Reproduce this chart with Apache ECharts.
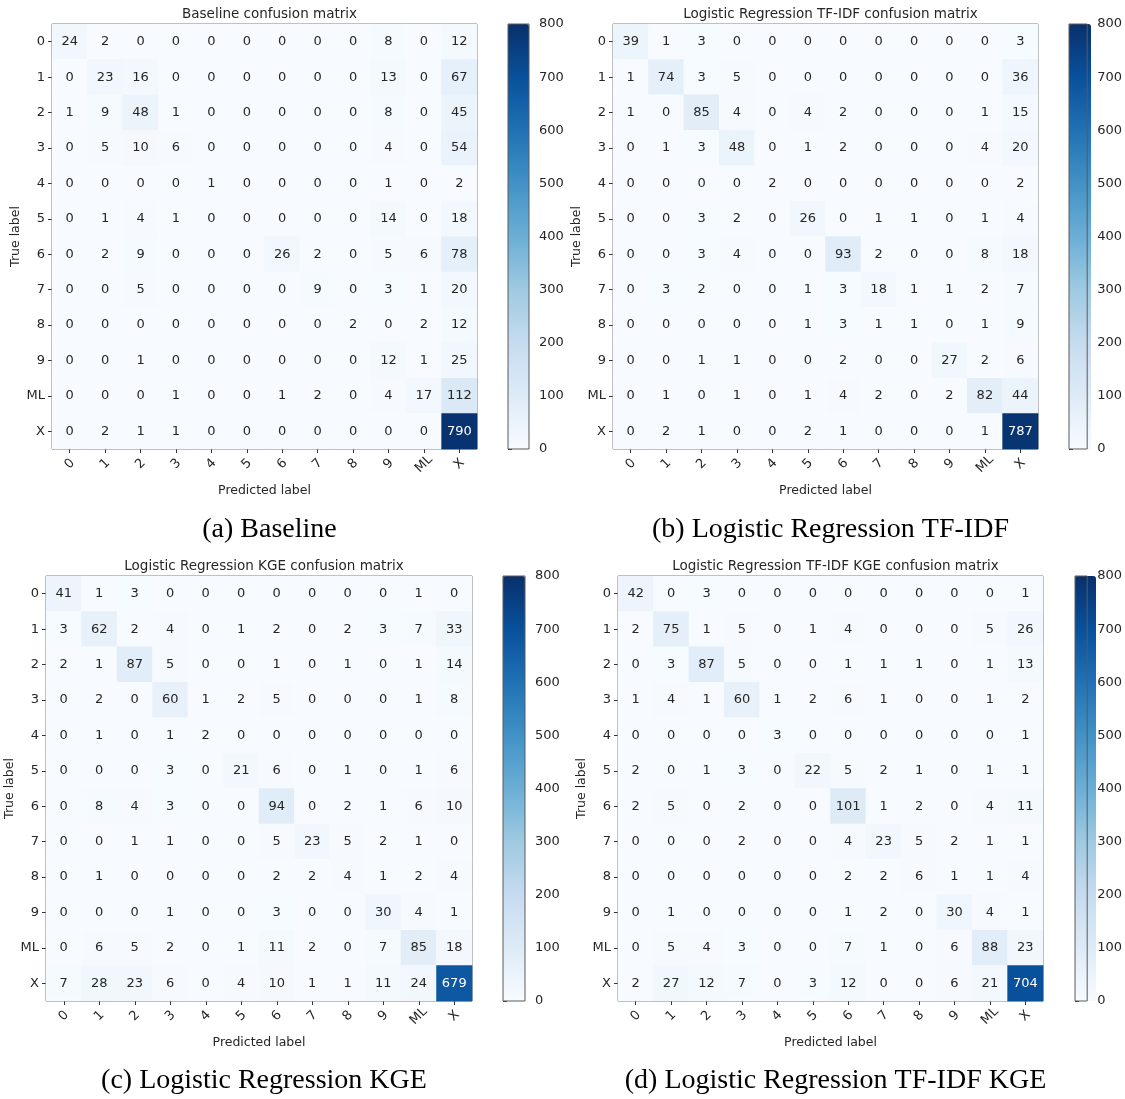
<!DOCTYPE html>
<html>
<head>
<meta charset="utf-8">
<script src="https://cdn.jsdelivr.net/npm/echarts@6/dist/echarts.min.js"></script>
<style>
  html, body { margin: 0; padding: 0; background: #fff; }
  #chart { width: 1125px; height: 1099px; }
</style>
</head>
<body>
<div id="chart"></div>
<script>
// ---------------- DATA ----------------
const classLabels = ['0', '1', '2', '3', '4', '5', '6', '7', '8', '9', 'ML', 'X'];

const chartTitles = [
  'Baseline confusion matrix',
  'Logistic Regression TF-IDF confusion matrix',
  'Logistic Regression KGE confusion matrix',
  'Logistic Regression TF-IDF KGE confusion matrix'
];

const captions = [
  '(a) Baseline',
  '(b) Logistic Regression TF-IDF',
  '(c) Logistic Regression KGE',
  '(d) Logistic Regression TF-IDF KGE'
];

const baselineMatrix = [
  [24, 2, 0, 0, 0, 0, 0, 0, 0, 8, 0, 12],
  [0, 23, 16, 0, 0, 0, 0, 0, 0, 13, 0, 67],
  [1, 9, 48, 1, 0, 0, 0, 0, 0, 8, 0, 45],
  [0, 5, 10, 6, 0, 0, 0, 0, 0, 4, 0, 54],
  [0, 0, 0, 0, 1, 0, 0, 0, 0, 1, 0, 2],
  [0, 1, 4, 1, 0, 0, 0, 0, 0, 14, 0, 18],
  [0, 2, 9, 0, 0, 0, 26, 2, 0, 5, 6, 78],
  [0, 0, 5, 0, 0, 0, 0, 9, 0, 3, 1, 20],
  [0, 0, 0, 0, 0, 0, 0, 0, 2, 0, 2, 12],
  [0, 0, 1, 0, 0, 0, 0, 0, 0, 12, 1, 25],
  [0, 0, 0, 1, 0, 0, 1, 2, 0, 4, 17, 112],
  [0, 2, 1, 1, 0, 0, 0, 0, 0, 0, 0, 790]
];

const tfidfMatrix = [
  [39, 1, 3, 0, 0, 0, 0, 0, 0, 0, 0, 3],
  [1, 74, 3, 5, 0, 0, 0, 0, 0, 0, 0, 36],
  [1, 0, 85, 4, 0, 4, 2, 0, 0, 0, 1, 15],
  [0, 1, 3, 48, 0, 1, 2, 0, 0, 0, 4, 20],
  [0, 0, 0, 0, 2, 0, 0, 0, 0, 0, 0, 2],
  [0, 0, 3, 2, 0, 26, 0, 1, 1, 0, 1, 4],
  [0, 0, 3, 4, 0, 0, 93, 2, 0, 0, 8, 18],
  [0, 3, 2, 0, 0, 1, 3, 18, 1, 1, 2, 7],
  [0, 0, 0, 0, 0, 1, 3, 1, 1, 0, 1, 9],
  [0, 0, 1, 1, 0, 0, 2, 0, 0, 27, 2, 6],
  [0, 1, 0, 1, 0, 1, 4, 2, 0, 2, 82, 44],
  [0, 2, 1, 0, 0, 2, 1, 0, 0, 0, 1, 787]
];

const kgeMatrix = [
  [41, 1, 3, 0, 0, 0, 0, 0, 0, 0, 1, 0],
  [3, 62, 2, 4, 0, 1, 2, 0, 2, 3, 7, 33],
  [2, 1, 87, 5, 0, 0, 1, 0, 1, 0, 1, 14],
  [0, 2, 0, 60, 1, 2, 5, 0, 0, 0, 1, 8],
  [0, 1, 0, 1, 2, 0, 0, 0, 0, 0, 0, 0],
  [0, 0, 0, 3, 0, 21, 6, 0, 1, 0, 1, 6],
  [0, 8, 4, 3, 0, 0, 94, 0, 2, 1, 6, 10],
  [0, 0, 1, 1, 0, 0, 5, 23, 5, 2, 1, 0],
  [0, 1, 0, 0, 0, 0, 2, 2, 4, 1, 2, 4],
  [0, 0, 0, 1, 0, 0, 3, 0, 0, 30, 4, 1],
  [0, 6, 5, 2, 0, 1, 11, 2, 0, 7, 85, 18],
  [7, 28, 23, 6, 0, 4, 10, 1, 1, 11, 24, 679]
];

const tfidfKgeMatrix = [
  [42, 0, 3, 0, 0, 0, 0, 0, 0, 0, 0, 1],
  [2, 75, 1, 5, 0, 1, 4, 0, 0, 0, 5, 26],
  [0, 3, 87, 5, 0, 0, 1, 1, 1, 0, 1, 13],
  [1, 4, 1, 60, 1, 2, 6, 1, 0, 0, 1, 2],
  [0, 0, 0, 0, 3, 0, 0, 0, 0, 0, 0, 1],
  [2, 0, 1, 3, 0, 22, 5, 2, 1, 0, 1, 1],
  [2, 5, 0, 2, 0, 0, 101, 1, 2, 0, 4, 11],
  [0, 0, 0, 2, 0, 0, 4, 23, 5, 2, 1, 1],
  [0, 0, 0, 0, 0, 0, 2, 2, 6, 1, 1, 4],
  [0, 1, 0, 0, 0, 0, 1, 2, 0, 30, 4, 1],
  [0, 5, 4, 3, 0, 0, 7, 1, 0, 6, 88, 23],
  [2, 27, 12, 7, 0, 3, 12, 0, 0, 6, 21, 704]
];

const matrices = [baselineMatrix, tfidfMatrix, kgeMatrix, tfidfKgeMatrix];

const colorbarMin = 0;
const colorbarMax = 800;
const colorbarStep = 100;

// matplotlib "Blues" colormap stops
const bluesColors = ['#f7fbff', '#deebf7', '#c6dbef', '#9ecae1', '#6baed6', '#4292c6', '#2171b5', '#08519c', '#08306b'];

// ---------------- LAYOUT ----------------
const heatGrids = [
  { left: 52, top: 24, width: 425, height: 425 },
  { left: 613, top: 24, width: 425, height: 425 },
  { left: 46, top: 576, width: 426, height: 425 },
  { left: 618, top: 576, width: 425, height: 425 }
];
const barGrids = [
  { left: 508, top: 24, width: 21, height: 425 },
  { left: 1069, top: 24, width: 22, height: 425 },
  { left: 503, top: 576, width: 22, height: 425 },
  { left: 1075, top: 576, width: 21, height: 425 }
];
const captionTops = [511, 511, 1062, 1062];

const textColor = '#262626';
const frameColor = '#5a5a5a';
const mainFont = 'DejaVu Sans';

// ---------------- BUILD ----------------
const option = {
  animation: false,
  backgroundColor: '#ffffff',
  textStyle: { fontFamily: mainFont },
  title: [],
  grid: [],
  xAxis: [],
  yAxis: [],
  visualMap: [],
  series: []
};

matrices.forEach((m, p) => {
  const g = heatGrids[p];
  const b = barGrids[p];
  const maxVal = Math.max(...m.map(r => Math.max(...r)));
  const thresh = maxVal / 2;

  option.title.push({
    text: chartTitles[p],
    left: g.left + g.width / 2,
    top: g.top - 22,
    textAlign: 'center',
    textStyle: { fontFamily: mainFont, fontSize: 13.5, fontWeight: 'normal', color: textColor }
  });
  option.title.push({
    text: captions[p],
    left: g.left + g.width / 2,
    top: captionTops[p],
    textAlign: 'center',
    textStyle: { fontFamily: 'Liberation Serif', fontSize: 28, fontWeight: 'normal', color: '#000' }
  });

  option.grid.push({
    left: g.left, top: g.top, width: g.width, height: g.height,
    show: true, borderColor: frameColor, borderWidth: 1, backgroundColor: 'transparent'
  });
  const hx = option.xAxis.length;
  option.xAxis.push({
    type: 'category', gridIndex: 2 * p, data: classLabels,
    name: 'Predicted label', nameLocation: 'middle', nameGap: 35,
    nameTextStyle: { fontFamily: mainFont, fontSize: 12.5, color: textColor },
    axisLine: { show: false },
    axisTick: { show: true, alignWithLabel: true, length: 4, lineStyle: { color: '#333' } },
    axisLabel: { rotate: 45, align: 'center', verticalAlign: 'middle', margin: 15, fontSize: 13, color: textColor, interval: 0 },
    splitLine: { show: false }
  });
  const hy = option.yAxis.length;
  option.yAxis.push({
    type: 'category', gridIndex: 2 * p, data: classLabels, inverse: true,
    name: 'True label', nameLocation: 'middle', nameGap: 29, nameRotate: 90,
    nameTextStyle: { fontFamily: mainFont, fontSize: 12.5, color: textColor },
    axisLine: { show: false },
    axisTick: { show: true, alignWithLabel: true, length: 4, lineStyle: { color: '#333' } },
    axisLabel: { margin: 7, fontSize: 13, color: textColor, interval: 0 },
    splitLine: { show: false }
  });

  option.grid.push({
    left: b.left, top: b.top, width: b.width, height: b.height,
    show: true, borderColor: frameColor, borderWidth: 1, backgroundColor: 'transparent', z: 5
  });
  option.xAxis.push({
    type: 'value', gridIndex: 2 * p + 1, min: 0, max: 1, show: false
  });
  option.yAxis.push({
    type: 'value', gridIndex: 2 * p + 1, position: 'right',
    min: colorbarMin, max: colorbarMax, interval: colorbarStep,
    axisLine: { show: false },
    axisTick: { show: true, length: 4, lineStyle: { color: '#333' } },
    axisLabel: { margin: 10, fontSize: 13, color: textColor },
    splitLine: { show: false }
  });

  const data = [];
  m.forEach((row, ri) => {
    row.forEach((v, ci) => {
      data.push({
        value: [ci, ri, v],
        label: { color: v > thresh ? '#ffffff' : textColor }
      });
    });
  });

  option.visualMap.push({
    type: 'continuous',
    seriesIndex: p,
    min: colorbarMin, max: colorbarMax,
    calculable: false,
    orient: 'vertical',
    left: b.left, top: b.top,
    itemWidth: b.width, itemHeight: b.height,
    padding: 0,
    text: null,
    showLabel: false,
    inRange: { color: bluesColors },
    hoverLink: false
  });

  option.series.push({
    type: 'heatmap',
    xAxisIndex: hx, yAxisIndex: hy,
    data: data,
    label: { show: true, fontSize: 13, fontFamily: mainFont, formatter: (pr) => String(pr.value[2]) },
    emphasis: { disabled: true },
    itemStyle: { borderWidth: 0 }
  });
});

const chart = echarts.init(document.getElementById('chart'), null, { renderer: 'canvas' });
chart.setOption(option);
</script>
</body>
</html>
